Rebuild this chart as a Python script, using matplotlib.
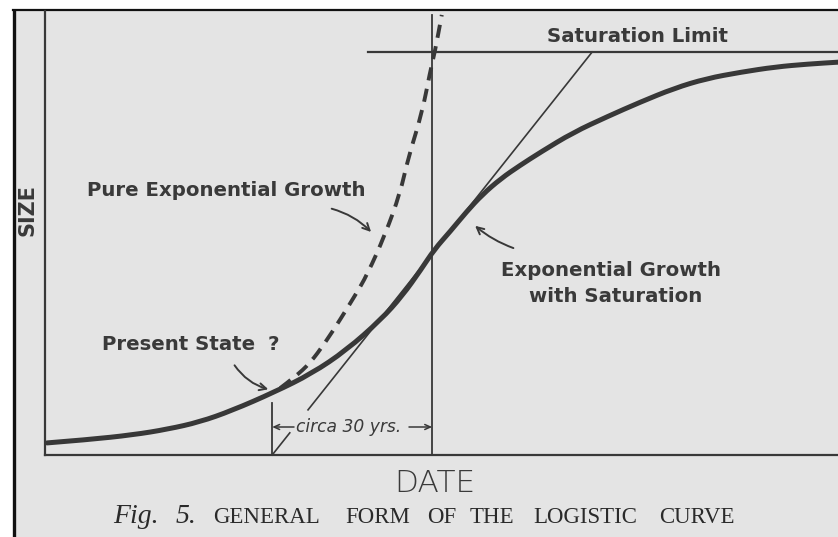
import numpy as np
import matplotlib
matplotlib.use("Agg")
import matplotlib.pyplot as plt
from matplotlib.patches import Rectangle, PathPatch
from matplotlib.path import Path

# ---------------- data (x: years from origin, y: % of saturation) ----------------
logistic_years = [0.4, 8, 16.5, 23, 29, 35, 43, 50, 56.5, 63, 67, 70.5, 73, 76, 79, 82,
                  85.5, 89, 93, 99, 105.5, 111.5, 118, 124, 130.5, 137, 143, 149]
logistic_size = [3.0, 3.8, 5.0, 6.4, 8.2, 11.0, 15.6, 20.2, 26.0, 33.6, 39.5, 46.0, 51.0,
                 55.5, 60.3, 64.6, 68.6, 71.8, 75.2, 80.0, 84.0, 87.5, 91.0, 93.4, 95.0,
                 96.3, 97.0, 97.5]

exp_years = [44.1, 46.9, 49.7, 52.5, 55.3, 58.1, 60.4, 63.75, 66.6, 68.1, 70.7, 72.2, 73.1, 74.4]
exp_size = [16.6, 19.4, 22.8, 27.8, 33.5, 39.5, 44.7, 54.6, 65.0, 73.7, 84.9, 95.0, 100.0, 109.2]

saturation_level = 100.0
saturation_start = 60.6
present_year = 42.6
inflection_year = 72.6
tangent_years = [42.6, 102.6]
tangent_size = [0.0, 100.0]
tangent_gap = [5.5, 11.2]
present_mark_top = 12.9
inflection_mark_top = 109.2

caption_words = ["GENERAL", "FORM", "OF", "THE", "LOGISTIC", "CURVE"]

# ---------------- layout: figure mapped to the pixel grid ----------------
W, H = 838, 537
PX_PER_YEAR = 5.333
PX_PER_PCT = 4.03
X0_PX, Y0_PX = 45, 455
caption_word_px = [213, 345, 427, 470, 533, 659]


def px_to_x(px):
    return (px - X0_PX) / PX_PER_YEAR


def py_to_y(py):
    return (Y0_PX - py) / PX_PER_PCT


def smooth_path(xs, ys):
    pts = np.column_stack([xs, ys])
    verts = [pts[0]]
    codes = [Path.MOVETO]
    for i in range(1, len(pts) - 1):
        mid = (pts[i] + pts[i + 1]) / 2
        verts += [pts[i], mid]
        codes += [Path.CURVE3, Path.CURVE3]
    verts.append(pts[-1])
    codes.append(Path.LINETO)
    return Path(verts, codes)


fig = plt.figure(figsize=(W / 100, H / 100), dpi=100)
fig.patch.set_facecolor("white")
ax = fig.add_axes([0, 0, 1, 1])
ax.set_xlim(px_to_x(0), px_to_x(W))
ax.set_ylim(py_to_y(H), py_to_y(0))
ax.axis("off")

# scanned page background with black border on left/top
ax.add_patch(Rectangle((13 / W, 0), 1 - 13 / W, 1 - 10 / H, transform=ax.transAxes,
                       facecolor="#e4e4e4", edgecolor="none", zorder=0))
ax.plot([13.5 / W, 13.5 / W], [0, 1 - 10 / H], transform=ax.transAxes, color="#111111", lw=2.4,
        zorder=1, solid_capstyle="butt")
ax.plot([13 / W, 1], [1 - 10 / H, 1 - 10 / H], transform=ax.transAxes, color="#111111", lw=1.6,
        zorder=1)

ink = "#383838"

# axes lines
ax.plot([0, 0], [0, py_to_y(11)], color=ink, lw=1.6, zorder=2)
ax.plot([0, px_to_x(W)], [0, 0], color=ink, lw=1.6, zorder=2)

# saturation limit
ax.plot([saturation_start, px_to_x(W)], [saturation_level, saturation_level], color=ink, lw=1.6,
        zorder=2)

# vertical marks
ax.plot([present_year, present_year], [0, present_mark_top], color=ink, lw=1.3, zorder=2)
ax.plot([inflection_year, inflection_year], [0, inflection_mark_top], color=ink, lw=1.3, zorder=2)

# tangent line (broken by the label)
ty0, ty1 = tangent_gap
tx_gap0 = np.interp(ty0, tangent_size, tangent_years)
tx_gap1 = np.interp(ty1, tangent_size, tangent_years)
ax.plot([tangent_years[0], tx_gap0], [tangent_size[0], ty0], color=ink, lw=1.2, zorder=2)
ax.plot([tx_gap1, tangent_years[1]], [ty1, tangent_size[1]], color=ink, lw=1.2, zorder=2)

# curves
ax.add_patch(PathPatch(smooth_path(logistic_years, logistic_size), facecolor="none",
                       edgecolor=ink, lw=3.6, capstyle="round", joinstyle="round", zorder=3))
ax.add_patch(PathPatch(smooth_path(exp_years, exp_size), facecolor="none", edgecolor=ink,
                       lw=2.8, linestyle=(0, (3.4, 2.2)), zorder=3))

label_font = dict(family="DejaVu Sans", fontweight="bold", color="#3a3a3a")
LFS = 14.2

ax.text(px_to_x(27), py_to_y(210), "SIZE", rotation=90, ha="center", va="center",
        fontsize=15, **label_font)
ax.text(px_to_x(87), py_to_y(191), "Pure Exponential Growth", ha="left", va="center",
        fontsize=LFS, **label_font)
ax.text(px_to_x(547), py_to_y(36), "Saturation Limit", ha="left", va="center",
        fontsize=LFS, **label_font)
ax.text(px_to_x(611), py_to_y(271), "Exponential Growth", ha="center", va="center",
        fontsize=LFS, **label_font)
ax.text(px_to_x(616), py_to_y(296), "with Saturation", ha="center", va="center",
        fontsize=LFS, **label_font)
ax.text(px_to_x(102), py_to_y(345), "Present State", ha="left", va="center",
        fontsize=LFS, **label_font)
ax.text(px_to_x(268), py_to_y(345), "?", ha="left", va="center",
        fontsize=LFS, **label_font)

arrow_kw = dict(arrowstyle="->,head_length=0.5,head_width=0.25", color=ink, lw=1.4)
ax.annotate("", xy=(px_to_x(373), py_to_y(234)), xytext=(px_to_x(329), py_to_y(208)),
            arrowprops=dict(connectionstyle="arc3,rad=-0.15", **arrow_kw))
ax.annotate("", xy=(px_to_x(473), py_to_y(224)), xytext=(px_to_x(516), py_to_y(249)),
            arrowprops=dict(connectionstyle="arc3,rad=-0.1", **arrow_kw))
ax.annotate("", xy=(px_to_x(271), py_to_y(390)), xytext=(px_to_x(233), py_to_y(363)),
            arrowprops=dict(connectionstyle="arc3,rad=0.2", **arrow_kw))

# circa 30 yrs.
ax.text(px_to_x(296), py_to_y(427), "circa 30 yrs.", ha="left", va="center",
        fontsize=12.3, fontstyle="italic", family="DejaVu Sans", color="#3a3a3a")
small_arrow = dict(arrowstyle="->,head_length=0.4,head_width=0.18", color=ink, lw=1.1,
                   shrinkA=0, shrinkB=0)
ax.annotate("", xy=(present_year, py_to_y(427)), xytext=(px_to_x(294), py_to_y(427)),
            arrowprops=small_arrow)
ax.annotate("", xy=(inflection_year, py_to_y(427)), xytext=(px_to_x(409), py_to_y(427)),
            arrowprops=small_arrow)

# DATE
ax.text(px_to_x(435), py_to_y(483), "DATE", ha="center", va="center", fontsize=22.5,
        family="DejaVu Sans", fontweight="light", color="#3a3a3a")

# caption
cap_kw = dict(va="baseline", family="Liberation Serif", color="#2a2a2a")
ax.text(px_to_x(113), py_to_y(523), "Fig.", ha="left", fontsize=20, fontstyle="italic", **cap_kw)
ax.text(px_to_x(176), py_to_y(523), "5.", ha="left", fontsize=20, fontstyle="italic", **cap_kw)
for word, wx in zip(caption_words, caption_word_px):
    ax.text(px_to_x(wx), py_to_y(523), word, ha="left", fontsize=16.5, **cap_kw)

fig.savefig("out.png", dpi=100, facecolor=fig.get_facecolor())
